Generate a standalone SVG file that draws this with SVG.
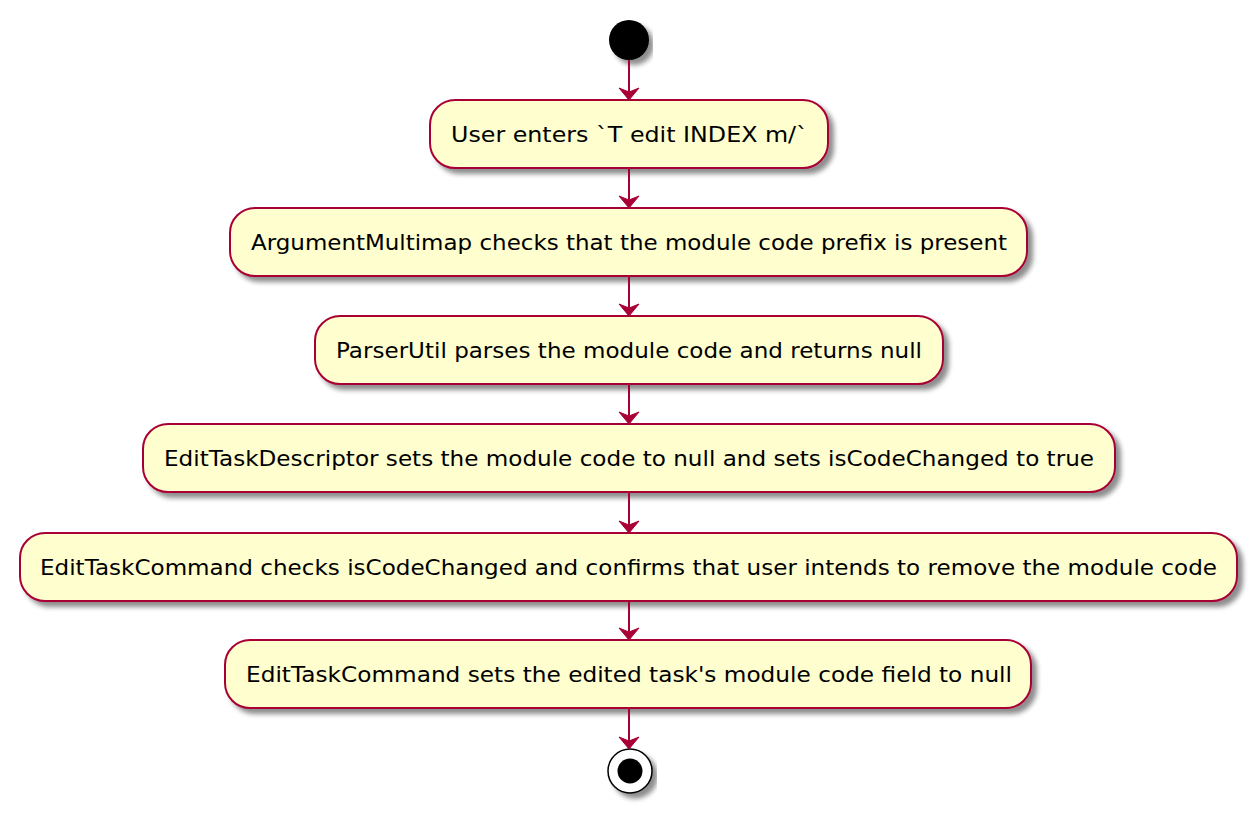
<svg xmlns="http://www.w3.org/2000/svg" width="1258" height="813" viewBox="0 0 1258 813">
<style>
.box{fill:#FEFECE;stroke:#A80036;stroke-width:2;filter:url(#sh)}
.t{font-family:"DejaVu Sans",Verdana,sans-serif;font-size:22px;fill:#000}
.c{stroke:#A80036;stroke-width:2;fill:none}
.ah{fill:#A80036;stroke:#A80036}
</style>
<defs>
<filter id="sh" x="-10%" y="-30%" width="120%" height="170%">
<feGaussianBlur in="SourceAlpha" stdDeviation="2.5"/>
<feOffset dx="5" dy="5" result="b"/>
<feComponentTransfer><feFuncA type="linear" slope="0.45"/></feComponentTransfer>
<feMerge><feMergeNode/><feMergeNode in="SourceGraphic"/></feMerge>
</filter>
</defs>
<rect width="1258" height="813" fill="#fff"/>
<g id="start"><circle cx="629" cy="40" r="20" fill="#000" filter="url(#sh)"/></g>
<g id="n1"><rect class="box" x="430" y="100" width="398" height="68" rx="25"/><text class="t" x="451" y="142" textLength="357" lengthAdjust="spacingAndGlyphs">User enters `T edit INDEX m/`</text></g>
<g id="n2"><rect class="box" x="230" y="208" width="797" height="68" rx="25"/><text class="t" x="251" y="250" textLength="756" lengthAdjust="spacingAndGlyphs">ArgumentMultimap checks that the module code prefix is present</text></g>
<g id="n3"><rect class="box" x="315" y="316" width="628" height="68" rx="25"/><text class="t" x="336" y="358" textLength="586" lengthAdjust="spacingAndGlyphs">ParserUtil parses the module code and returns null</text></g>
<g id="n4"><rect class="box" x="143" y="424" width="972" height="68" rx="25"/><text class="t" x="164" y="466" textLength="930" lengthAdjust="spacingAndGlyphs">EditTaskDescriptor sets the module code to null and sets isCodeChanged to true</text></g>
<g id="n5"><rect class="box" x="20" y="533" width="1217" height="68" rx="25"/><text class="t" x="40" y="575" textLength="1177" lengthAdjust="spacingAndGlyphs">EditTaskCommand checks isCodeChanged and confirms that user intends to remove the module code</text></g>
<g id="n6"><rect class="box" x="225" y="640" width="806" height="68" rx="25"/><text class="t" x="246" y="682" textLength="766" lengthAdjust="spacingAndGlyphs">EditTaskCommand sets the edited task's module code field to null</text></g>
<g id="end"><circle cx="630" cy="771" r="22" fill="#fff" stroke="#000" stroke-width="1.5" filter="url(#sh)"/><circle cx="630" cy="771" r="12.5" fill="#000"/></g>
<g id="connectors">
<path class="c" d="M629 60V98"/><path class="ah" d="M619 88L629 100L639 88L629 92Z"/>
<path class="c" d="M629 168V206"/><path class="ah" d="M619 196L629 208L639 196L629 200Z"/>
<path class="c" d="M629 276V314"/><path class="ah" d="M619 304L629 316L639 304L629 308Z"/>
<path class="c" d="M629 384V422"/><path class="ah" d="M619 412L629 424L639 412L629 416Z"/>
<path class="c" d="M629 492V531"/><path class="ah" d="M619 521L629 533L639 521L629 525Z"/>
<path class="c" d="M629 601V638"/><path class="ah" d="M619 628L629 640L639 628L629 632Z"/>
<path class="c" d="M629 708V747"/><path class="ah" d="M619 737L629 749L639 737L629 741Z"/>
</g>
</svg>
